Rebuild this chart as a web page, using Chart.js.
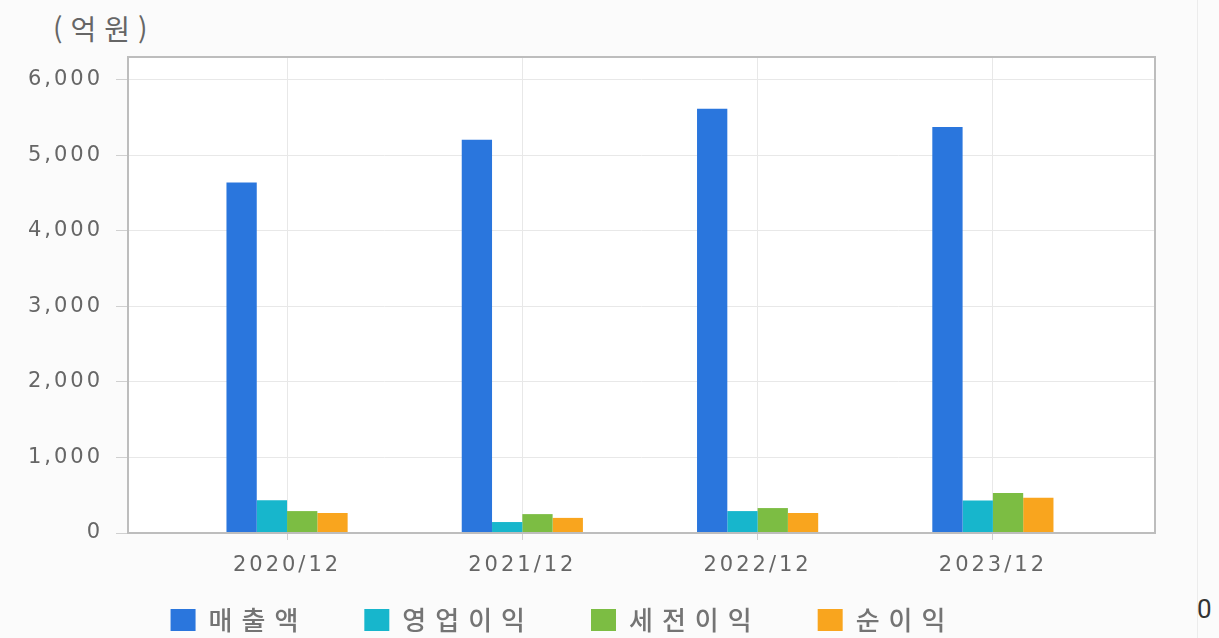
<!DOCTYPE html>
<html lang="ko">
<head>
  <meta charset="UTF-8">
  <title>매출액 / 영업이익 / 세전이익 / 순이익</title>
  <script src="https://cdn.jsdelivr.net/npm/chart.js"></script>
  <style>
    html, body { margin: 0; padding: 0; background: #fbfbfb; }
    #wrap { position: relative; width: 1219px; height: 638px; overflow: hidden; }
    #unit { position: absolute; left: 53px; top: 12px; font: 28px/32px "Noto Sans CJK KR", sans-serif; color: #666; letter-spacing: 8px; }
    #edge { position: absolute; left: 1197px; top: 0; width: 1px; height: 638px; background: #ececec; }
    #zero { position: absolute; left: 1197px; top: 594px; font: 26px/30px Roboto, sans-serif; color: #333; }
    canvas { position: absolute; left: 0; top: 0; }
  </style>
</head>
<body>
<div id="wrap">
  <div id="unit">(억원)</div>
  <div id="edge"></div>
  <div id="zero">0</div>
  <canvas id="chart" width="1219" height="638"></canvas>
</div>
<script>
  // 단위: 억원
  const years = ['2020/12', '2021/12', '2022/12', '2023/12'];
  const sales = [4640, 5205, 5615, 5375];      // 매출액
  const opProfit = [435, 145, 290, 430];       // 영업이익
  const preTax = [290, 250, 330, 530];         // 세전이익
  const netProfit = [265, 200, 265, 465];      // 순이익
  const yTicks = [0, 1000, 2000, 3000, 4000, 5000, 6000];

  const toPoints = arr => arr.map((v, i) => ({ x: i, y: v }));

  // wide letter spacing like the original; legend items get extra room after the text
  const spacing = {
    id: 'spacing',
    beforeInit(chart) {
      const ctx = chart.ctx;
      const fill = ctx.fillText, measure = ctx.measureText;
      const isLegend = c => c.font.indexOf('26px') >= 0;
      ctx.fillText = function (t, x, y, w) {
        this.letterSpacing = isLegend(this) ? '9px' : '3px';
        return fill.call(this, t, x, y, w);
      };
      ctx.measureText = function (t) {
        const leg = isLegend(this);
        this.letterSpacing = leg ? '9px' : '3px';
        const m = measure.call(this, t);
        return leg ? { width: m.width + 30 } : m;
      };
    }
  };

  const frame = {
    id: 'frame',
    beforeDraw(chart) {
      const { ctx, chartArea: a } = chart;
      ctx.save();
      ctx.fillStyle = '#ffffff';
      ctx.fillRect(a.left, a.top, a.width, a.height);
      ctx.restore();
    },
    afterDatasetsDraw(chart) {
      const { ctx, chartArea: a } = chart;
      ctx.save();
      ctx.strokeStyle = '#bdbdbd';
      ctx.lineWidth = 2;
      ctx.strokeRect(a.left, a.top, a.width, a.height);
      ctx.restore();
    }
  };

  const tickFont = { family: '"DejaVu Sans", sans-serif', size: 21 };

  new Chart(document.getElementById('chart'), {
    type: 'bar',
    data: {
      datasets: [
        { label: '매출액', data: toPoints(sales), backgroundColor: '#2a76dd' },
        { label: '영업이익', data: toPoints(opProfit), backgroundColor: '#17b6cc' },
        { label: '세전이익', data: toPoints(preTax), backgroundColor: '#7cbd43' },
        { label: '순이익', data: toPoints(netProfit), backgroundColor: '#f9a51e' }
      ]
    },
    options: {
      responsive: false,
      animation: false,
      events: [],
      categoryPercentage: 0.515,
      barPercentage: 1,
      borderWidth: 0,
      layout: { padding: { left: 0, top: 57, right: 64, bottom: -5 } },
      scales: {
        x: {
          type: 'linear',
          min: -0.676,
          max: 3.689,
          offset: false,
          afterBuildTicks(s) { s.ticks = years.map((_, i) => ({ value: i })); },
          afterFit(s) { s.height = 47; },
          ticks: { callback: v => years[v], font: tickFont, color: '#666', padding: 13, maxRotation: 0 },
          grid: { offset: false, color: '#e8e8e8', tickLength: 7, tickColor: '#d0d0d0' },
          border: { display: false }
        },
        y: {
          min: 0,
          max: 6300,
          afterBuildTicks(s) { s.ticks = yTicks.map(v => ({ value: v })); },
          afterFit(s) { s.width = 128; },
          ticks: { callback: v => v.toLocaleString('en-US'), font: tickFont, color: '#666', padding: 13 },
          grid: { color: '#e8e8e8', tickLength: 12, tickColor: '#d0d0d0' },
          border: { display: false }
        }
      },
      plugins: {
        legend: {
          position: 'bottom',
          align: 'center',
          labels: {
            boxWidth: 25,
            boxHeight: 22,
            padding: 27,
            color: '#747474',
            font: { family: '"Noto Sans CJK KR", sans-serif', size: 26, weight: '500' }
          }
        },
        tooltip: { enabled: false }
      }
    },
    plugins: [spacing, frame]
  });
</script>
</body>
</html>
